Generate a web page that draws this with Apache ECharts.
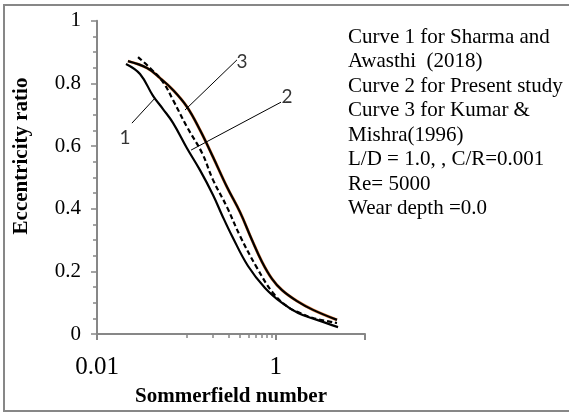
<!DOCTYPE html>
<html>
<head>
<meta charset="utf-8">
<script src="https://cdn.jsdelivr.net/npm/echarts@6/dist/echarts.min.js"></script>
<style>
html,body{margin:0;padding:0;background:#fff;}
#chart{width:569px;height:412px;}
</style>
</head>
<body>
<div id="chart"></div>
<script>
// Curve 1: Sharma and Awasthi (2018)
var curve1X = [0.0211, 0.0303, 0.0424, 0.0548, 0.0709, 0.1017, 0.1422, 0.1989, 0.2507, 0.3245, 0.4901, 0.760, 1.178, 1.779, 2.902, 4.99];
var curve1Y = [0.862, 0.830, 0.760, 0.718, 0.674, 0.593, 0.523, 0.444, 0.380, 0.313, 0.217, 0.147, 0.099, 0.067, 0.045, 0.022];
// Curve 2: Present study
var curve2X = [0.0222, 0.0363, 0.0507, 0.0709, 0.1017, 0.1422, 0.1989, 0.2853, 0.399, 0.543, 0.704, 0.910, 1.178, 1.733, 2.618, 4.86];
var curve2Y = [0.871, 0.849, 0.817, 0.779, 0.725, 0.651, 0.565, 0.469, 0.389, 0.300, 0.230, 0.176, 0.140, 0.105, 0.077, 0.045];
// Curve 3: Kumar & Mishra (1996)
var curve3X = [0.0288, 0.0392, 0.0548, 0.0709, 0.1017, 0.1498, 0.1989, 0.2853, 0.399, 0.618, 0.934, 1.374, 1.873, 2.618, 4.86];
var curve3Y = [0.884, 0.849, 0.804, 0.747, 0.661, 0.578, 0.492, 0.405, 0.313, 0.211, 0.131, 0.086, 0.067, 0.051, 0.035];

var yTickLabels = ['0', '0.2', '0.4', '0.6', '0.8', '1'];
var xTickLabels = ['0.01', '1'];
var xMajorTicks = [0.01, 1, 10];
var xMinorTicks = [0.1, 0.2, 0.3, 0.4, 0.5, 0.6, 0.7, 0.8, 0.9];

var curveLabels = ['1', '2', '3'];
var curveLabelPos = [[0.0206, 0.626], [1.34, 0.756], [0.421, 0.868]];
var leaderLines = [
  [[0.0246, 0.673], [0.0446, 0.753]],
  [[1.148, 0.740], [0.113, 0.587]],
  [[0.369, 0.875], [0.0967, 0.715]]
];
var noteLines = [
  'Curve 1 for Sharma and',
  'Awasthi  (2018)',
  'Curve 2 for Present study',
  'Curve 3 for Kumar &',
  'Mishra(1996)',
  'L/D = 1.0, , C/R=0.001',
  'Re= 5000',
  'Wear depth =0.0'
];

function zip(xs, ys) { return xs.map(function (x, i) { return [x, ys[i]]; }); }
var log10 = function (v) { return Math.log(v) / Math.LN10; };

var serif = '"Liberation Serif", "Times New Roman", serif';
var gray = '#878787';
var SMOOTH = 0.4;

var chart = echarts.init(document.getElementById('chart'), null, {renderer: 'canvas'});
chart.setOption({
  animation: false,
  backgroundColor: '#fff',
  grid: {left: 97, right: 204, top: 20.7, bottom: 78, containLabel: false},
  xAxis: [{
    type: 'log', logBase: 10, min: 0.01, max: 10,
    position: 'bottom',
    axisLine: {show: true, onZero: false, lineStyle: {color: gray, width: 2}},
    axisTick: {show: false},
    splitLine: {show: false},
    minorTick: {show: false},
    axisLabel: {
      show: true, margin: 21, color: '#000', fontFamily: serif, fontSize: 25,
      formatter: function (v) {
        var e = Math.round(log10(v));
        var s = e === -2 ? '0.01' : (e === 0 ? '1' : '');
        return xTickLabels.indexOf(s) >= 0 ? s : '';
      }
    }
  }, {
    type: 'value', min: -2, max: 1, position: 'bottom',
    axisLine: {show: false, onZero: false}, splitLine: {show: false}, axisLabel: {show: false},
    axisTick: {show: true, length: 6, lineStyle: {color: gray, width: 2},
      customValues: xMajorTicks.map(log10)}
  }, {
    type: 'value', min: -2, max: 1, position: 'bottom',
    axisLine: {show: false, onZero: false}, splitLine: {show: false}, axisLabel: {show: false},
    axisTick: {show: true, length: 4, lineStyle: {color: gray, width: 1.5},
      customValues: xMinorTicks.map(log10)}
  }],
  yAxis: {
    type: 'value', min: 0, max: 1, interval: 0.2, position: 'left',
    axisLine: {show: true, onZero: false, lineStyle: {color: gray, width: 2}},
    axisTick: {show: true, length: 6, lineStyle: {color: gray, width: 1.5}},
    minorTick: {show: true, splitNumber: 4, length: 4, lineStyle: {color: gray, width: 1.5}},
    splitLine: {show: false},
    axisLabel: {
      margin: 16, color: '#000', fontFamily: serif, fontSize: 21,
      formatter: function (v) { return yTickLabels[Math.round(v / 0.2)]; }
    }
  },
  series: [
    {
      name: 'Curve 2 underlay', type: 'line', xAxisIndex: 0, data: zip(curve2X, curve2Y),
      smooth: SMOOTH, showSymbol: false, symbol: 'none',
      lineStyle: {color: '#E8894A', width: 3}
    },
    {
      name: 'Curve 1', type: 'line', xAxisIndex: 0, data: zip(curve1X, curve1Y),
      smooth: SMOOTH, showSymbol: false, symbol: 'none',
      lineStyle: {color: '#000', width: 2.2}
    },
    {
      name: 'Curve 2', type: 'line', xAxisIndex: 0, data: zip(curve2X, curve2Y),
      smooth: SMOOTH, showSymbol: false, symbol: 'none',
      lineStyle: {color: '#000', width: 2.2}
    },
    {
      name: 'Curve 3', type: 'line', xAxisIndex: 0, data: zip(curve3X, curve3Y),
      smooth: SMOOTH, showSymbol: false, symbol: 'none',
      lineStyle: {color: '#000', width: 2.2, type: [5, 3]}
    },
    {
      name: 'Labels', type: 'scatter', xAxisIndex: 0,
      data: curveLabels.map(function (t, i) { return {name: t, value: curveLabelPos[i]}; }),
      symbolSize: 1, itemStyle: {color: 'rgba(0,0,0,0)'},
      label: {show: true, position: 'inside', formatter: '{b}', color: '#000',
        fontFamily: 'Lato, "Open Sans", sans-serif', fontSize: 19},
      markLine: {
        silent: true, symbol: ['none', 'none'], animation: false,
        label: {show: false},
        lineStyle: {color: '#000', width: 1, type: 'solid'},
        data: leaderLines.map(function (l) { return [{coord: l[0]}, {coord: l[1]}]; })
      }
    }
  ],
  graphic: [
    {type: 'rect', shape: {x: 4, y: 5, width: 580, height: 406}, silent: true,
      style: {fill: 'none', stroke: gray, lineWidth: 2}, z: -1},
    {type: 'text', x: 348, y: 25, silent: true,
      style: {text: noteLines.join('\n'), font: '21px ' + serif, fill: '#000',
        lineHeight: 24.5, align: 'left', verticalAlign: 'top'}},
    {type: 'text', x: 22, y: 156, rotation: Math.PI / 2, silent: true,
      style: {text: 'Eccentricity ratio', font: 'bold 21px ' + serif, fill: '#000',
        align: 'center', verticalAlign: 'middle'}},
    {type: 'text', x: 231, y: 397, silent: true,
      style: {text: 'Sommerfield number', font: 'bold 21px ' + serif, fill: '#000',
        align: 'center', verticalAlign: 'middle'}}
  ]
});
</script>
</body>
</html>
